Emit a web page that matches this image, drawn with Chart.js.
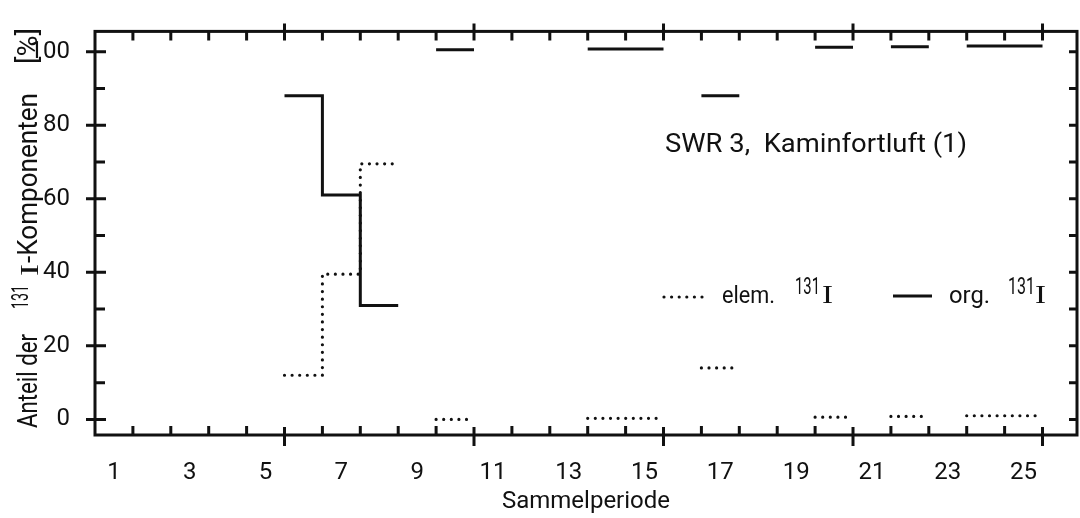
<!DOCTYPE html>
<html>
<head>
<meta charset="utf-8">
<script src="https://cdn.jsdelivr.net/npm/chart.js@4.4.1/dist/chart.umd.min.js"></script>
<style>
  html, body { margin: 0; padding: 0; background: #fff; }
  canvas { display: block; }
</style>
</head>
<body>
<canvas id="chart" width="1080" height="518"></canvas>
<script>
// Sammelperioden mit Messwerten
var periods = [6, 7, 8, 10, 14, 15, 17, 20, 22, 24, 25];
// Anteil elementares 131I [%]
var elemValues = [12, 39.5, 69.5, 0, 0.3, 0.3, 14, 0.6, 0.8, 1, 1];
// Anteil organisches 131I [%]
var orgValues = [88, 61, 31, 100.5, 100.7, 100.7, 88, 101.2, 101.3, 101.5, 101.5];
var xTickLabels = [1, 3, 5, 7, 9, 11, 13, 15, 17, 19, 21, 23, 25];
var yTickLabels = [0, 20, 40, 60, 80, 100];

var inkColor = '#111';
var textFont = 'Roboto';

// jede Periode als Stufe von p-0.5 bis p+0.5, Luecke zwischen nicht benachbarten Perioden
function stepPoints(values) {
  var pts = [];
  periods.forEach(function (p, i) {
    if (i > 0 && periods[i - 1] !== p - 1) {
      pts.push({ x: periods[i - 1] + 0.5, y: values[i - 1] });
      pts.push({ x: (periods[i - 1] + p) / 2, y: null });
    }
    pts.push({ x: p - 0.5, y: values[i] });
  });
  var last = periods.length - 1;
  pts.push({ x: periods[last] + 0.5, y: values[last] });
  return pts;
}

// Text auf gegebene Breite bringen
function fitText(ctx, text, x, y, width, font) {
  ctx.font = font;
  var w = ctx.measureText(text).width;
  ctx.save();
  ctx.translate(x, y);
  ctx.scale(width / w, 1);
  ctx.fillText(text, 0, 0);
  ctx.restore();
}

var framePlugin = {
  id: 'frame',
  afterDraw: function (chart) {
    var ctx = chart.ctx;
    var a = chart.chartArea;
    var xs = chart.scales.x;
    var ys = chart.scales.y;
    ctx.save();
    ctx.strokeStyle = inkColor;
    ctx.fillStyle = inkColor;
    ctx.lineWidth = 3;
    ctx.strokeRect(a.left, a.top, a.right - a.left, a.bottom - a.top);

    // Teilstriche
    ctx.beginPath();
    for (var b = 1.5; b < 26; b += 1) {
      var px = xs.getPixelForValue(b);
      if ((b - 0.5) % 5 === 0) {
        ctx.moveTo(px, a.bottom + 11); ctx.lineTo(px, a.bottom - 8);
        ctx.moveTo(px, a.top - 8); ctx.lineTo(px, a.top + 9);
      } else {
        ctx.moveTo(px, a.bottom); ctx.lineTo(px, a.bottom - 9);
        ctx.moveTo(px, a.top); ctx.lineTo(px, a.top + 9);
      }
    }
    for (var v = 0; v <= 100; v += 10) {
      var py = ys.getPixelForValue(v);
      if (v % 20 === 0) {
        ctx.moveTo(a.left - 9, py); ctx.lineTo(a.left + 11, py);
      } else {
        ctx.moveTo(a.left, py); ctx.lineTo(a.left + 10, py);
      }
      ctx.moveTo(a.right, py); ctx.lineTo(a.right - 8, py);
    }
    ctx.stroke();

    // Legende
    ctx.beginPath();
    ctx.lineCap = 'round';
    ctx.lineWidth = 3.2;
    ctx.setLineDash([0, 7.6]);
    ctx.moveTo(664, 297); ctx.lineTo(703, 297);
    ctx.stroke();
    ctx.beginPath();
    ctx.setLineDash([]);
    ctx.lineCap = 'butt';
    ctx.lineWidth = 3;
    ctx.moveTo(893, 296); ctx.lineTo(932, 296);
    ctx.stroke();

    ctx.textAlign = 'left';
    ctx.textBaseline = 'alphabetic';
    fitText(ctx, 'elem.', 722, 303, 53, '24px ' + textFont);
    fitText(ctx, '131', 795, 294, 25, '23px ' + textFont);
    fitText(ctx, 'I', 822, 303, 11, '25px "Liberation Serif"');
    fitText(ctx, 'org.', 949, 303, 41, '24px ' + textFont);
    fitText(ctx, '131', 1008, 294, 27, '23px ' + textFont);
    fitText(ctx, 'I', 1035, 303, 11, '25px "Liberation Serif"');

    fitText(ctx, 'SWR 3,  Kaminfortluft (1)', 665, 152, 302, '26px ' + textFont);

    // y-Achsentitel
    ctx.save();
    ctx.translate(37, 428);
    ctx.rotate(-Math.PI / 2);
    fitText(ctx, 'Anteil der', 0, 0, 94, '27px ' + textFont);
    fitText(ctx, '131', 119, -9, 24, '24px ' + textFont);
    fitText(ctx, 'I', 152, 1, 12, '26px "Liberation Serif"');
    fitText(ctx, '-Komponenten', 165, 0, 170, '27px ' + textFont);
    fitText(ctx, '[%]', 364, 0, 36, '27px ' + textFont);
    ctx.restore();

    ctx.restore();
  }
};

new Chart(document.getElementById('chart'), {
  type: 'line',
  data: {
    datasets: [{
      label: 'elem. 131I',
      data: stepPoints(elemValues),
      stepped: 'before',
      borderColor: inkColor,
      borderWidth: 3.2,
      borderDash: [0, 7.6],
      borderCapStyle: 'round',
      pointRadius: 0,
      spanGaps: false,
      fill: false
    }, {
      label: 'org. 131I',
      data: stepPoints(orgValues),
      stepped: 'before',
      borderColor: inkColor,
      borderWidth: 3,
      pointRadius: 0,
      spanGaps: false,
      fill: false
    }]
  },
  options: {
    responsive: false,
    animation: false,
    devicePixelRatio: 1,
    layout: { padding: { top: 21, right: 3, left: 0, bottom: 0 } },
    plugins: {
      legend: { display: false },
      tooltip: { enabled: false }
    },
    scales: {
      x: {
        type: 'linear',
        min: 0.5,
        max: 26.41,
        afterBuildTicks: function (s) { s.ticks = xTickLabels.map(function (v) { return { value: v }; }); },
        afterFit: function (s) { s.height = 83; },
        grid: { display: false },
        border: { display: false },
        ticks: { color: inkColor, font: { family: textFont, size: 24 }, padding: 16, maxRotation: 0, autoSkip: false },
        title: {
          display: true,
          text: 'Sammelperiode',
          color: inkColor,
          font: { family: textFont, size: 24 },
          padding: { top: 0, bottom: 2 }
        }
      },
      y: {
        min: -4.24,
        max: 105.5,
        afterBuildTicks: function (s) { s.ticks = yTickLabels.map(function (v) { return { value: v }; }); },
        afterFit: function (s) { s.width = 95; },
        grid: { display: false },
        border: { display: false },
        ticks: { color: inkColor, font: { family: textFont, size: 24 }, padding: 17 }
      }
    }
  },
  plugins: [framePlugin]
});
</script>
</body>
</html>
